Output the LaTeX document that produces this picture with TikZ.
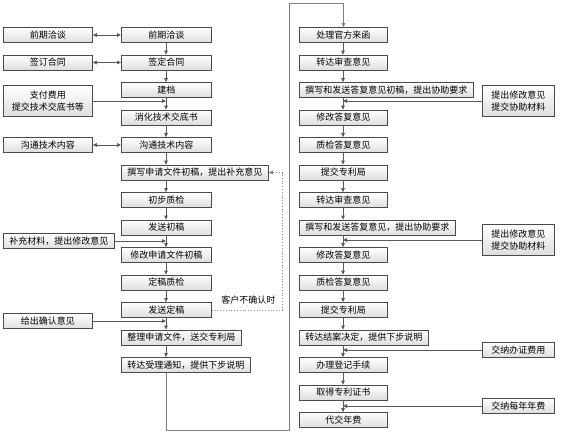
\documentclass[tikz,border=0pt]{standalone}
\usepackage{fontspec}
\usepackage{tikz}
\usetikzlibrary{positioning,arrows.meta,calc}
\newfontfamily\cjk{Noto Sans CJK SC}
\definecolor{BoxLine}{HTML}{4A4A4A}
\definecolor{FlowLine}{HTML}{5A5A5A}
\begin{document}
\begin{tikzpicture}[x=1pt, y=-1pt,
  box/.style={draw=BoxLine, line width=0.8pt, top color=white, bottom color=black!13, align=center, minimum height=15pt, inner xsep=6pt, inner ysep=0pt, font=\cjk\fontsize{9}{12}\selectfont},
  mainbox/.style={box, anchor=west, minimum width=90pt},
  rbox/.style={box, anchor=west, minimum width=88pt},
  sidebox/.style={box, anchor=west, minimum width=89pt},
  rsidebox/.style={box, anchor=west, minimum width=72pt},
  twoline/.style={minimum height=31pt},
  flow/.style={-{Triangle[length=4pt,width=3.6pt]}, draw=FlowLine, line width=0.8pt},
  both/.style={{Triangle[length=4pt,width=3.6pt]}-{Triangle[length=4pt,width=3.6pt]}, draw=FlowLine, line width=0.8pt},
  loop/.style={-{Triangle[length=4pt,width=3.6pt]}, draw=black!45, dotted, line width=0.8pt}]
\useasboundingbox (0,0) rectangle (578,433);
\coordinate (lc) at (166,0);
\coordinate (rc) at (343,0);
% center column
\node[mainbox] (qt) at (121,35)    {前期洽谈};
\node[mainbox] (ht) at (121,62.5)  {签定合同};
\node[mainbox] (jd) at (121,90)    {建档};
\node[mainbox] (xh) at (121,117.5) {消化技术交底书};
\node[mainbox] (gt) at (121,145)   {沟通技术内容};
\node[mainbox] (zx) at (121,172.5) {撰写申请文件初稿，提出补充意见};
\node[mainbox] (zj) at (121,200)   {初步质检};
\node[mainbox] (fc) at (121,227.5) {发送初稿};
\node[mainbox] (xg) at (121,255)   {修改申请文件初稿};
\node[mainbox] (dj) at (121,282.5) {定稿质检};
\node[mainbox] (fd) at (121,310)   {发送定稿};
\node[mainbox] (zl) at (121,337.5) {整理申请文件，送交专利局};
\node[mainbox] (sl) at (121,365)   {转达受理通知，提供下步说明};
% client side
\node[sidebox] (kqt) at (3,35)   {前期洽谈};
\node[sidebox] (kht) at (3,62.5) {签订合同};
\node[sidebox, twoline] (kzf) at (3,101)  {支付费用\\提交技术交底书等};
\node[sidebox] (kgt) at (3,145)  {沟通技术内容};
\node[sidebox] (kbc) at (3,241)  {补充材料，提出修改意见};
\node[sidebox] (kqr) at (3,321)  {给出确认意见};
% right column
\node[rbox] (lh)  at (299,35)    {处理官方来函};
\node[rbox] (sc1) at (299,62.5)  {转达审查意见};
\node[rbox] (df1) at (299,90)    {撰写和发送答复意见初稿，提出协助要求};
\node[rbox] (xd1) at (299,117.5) {修改答复意见};
\node[rbox] (zd1) at (299,145)   {质检答复意见};
\node[rbox] (tj1) at (299,172.5) {提交专利局};
\node[rbox] (sc2) at (299,200)   {转达审查意见};
\node[rbox] (df2) at (299,227.5) {撰写和发送答复意见，提出协助要求};
\node[rbox] (xd2) at (299,255)   {修改答复意见};
\node[rbox] (zd2) at (299,282.5) {质检答复意见};
\node[rbox] (tj2) at (299,310)   {提交专利局};
\node[rbox] (ja)  at (299,337.5) {转达结案决定，提供下步说明};
\node[rbox] (dc)  at (299,365)   {办理登记手续};
\node[rbox] (zs)  at (299,392.5) {取得专利证书};
\node[rbox] (nf)  at (299,420)   {代交年费};
% client side, right
\node[rsidebox, twoline] (ky1) at (482,101) {提出修改意见\\提交协助材料};
\node[rsidebox, twoline] (ky2) at (482,240) {提出修改意见\\提交协助材料};
\node[rsidebox] (kbz) at (482,350) {交纳办证费用};
\node[rsidebox] (knf) at (482,406) {交纳每年年费};
% main flow
\foreach \a/\b in {qt/ht, ht/jd, jd/xh, xh/gt, gt/zx, zx/zj, zj/fc, fc/xg, xg/dj, dj/fd, fd/zl, zl/sl}
  \draw[flow] (\a.south -| lc) -- (\b.north -| lc);
\foreach \a/\b in {lh/sc1, sc1/df1, df1/xd1, xd1/zd1, zd1/tj1, tj1/sc2, sc2/df2, df2/xd2, xd2/zd2, zd2/tj2, tj2/ja, ja/dc, dc/zs, zs/nf}
  \draw[flow] (\a.south -| rc) -- (\b.north -| rc);
% client exchange
\foreach \a/\b in {kqt/qt, kht/ht, kgt/gt}
  \draw[both] (\a) -- (\b);
\foreach \a in {kzf, kbc, kqr}
  \draw[flow] (\a.east) -- (\a.east -| lc);
\foreach \a in {ky1, ky2, kbz, knf}
  \draw[flow] (\a.west) -- (\a.west -| rc);
% not confirmed
\coordinate (nc) at (282,0);
\draw[loop] (fd.east) -- (fd.east -| nc) -- (zx.east -| nc) -- (zx.east);
\node[font=\cjk\fontsize{9}{10}\selectfont, anchor=east] (bqr) at (279,300) {客户不确认时};
% to official letters
\coordinate (bt) at (289,430);
\coordinate (tp) at (289,4);
\draw[flow, draw=black!50, line width=1pt] (sl.south -| lc) |- (bt) -- (tp) -| (lh.north);
\end{tikzpicture}
\end{document}
